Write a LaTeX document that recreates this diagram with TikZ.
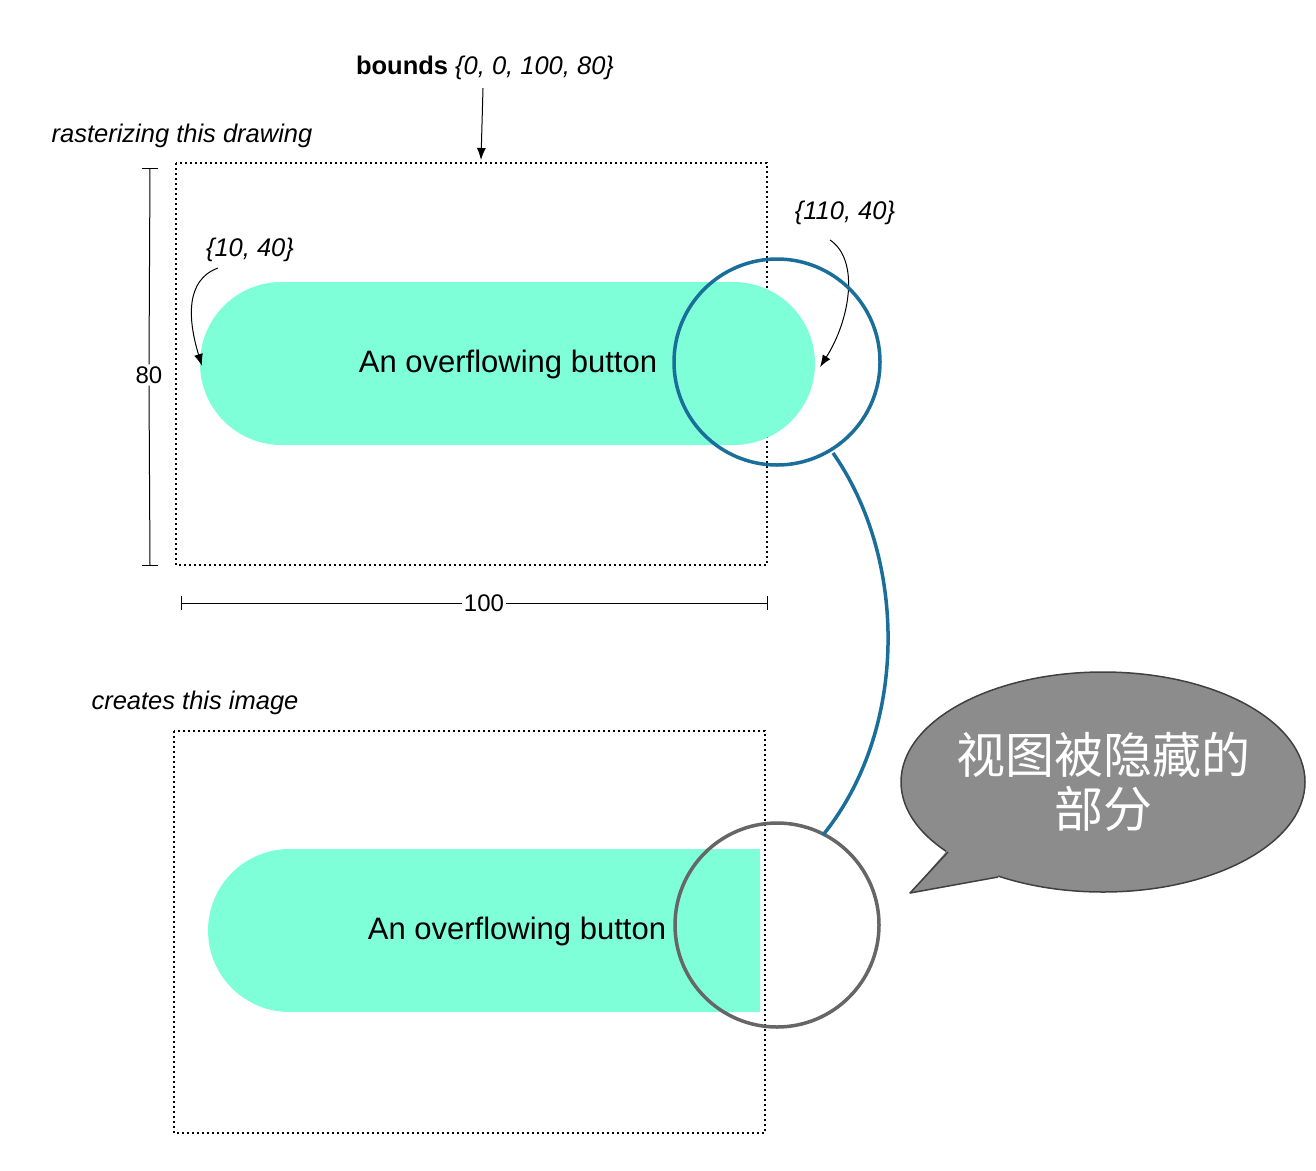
\documentclass[tikz,border=0pt]{standalone}
\usepackage{fontspec}
\setmainfont{Liberation Sans}
\newfontfamily\cjk{Noto Sans CJK SC}
\usetikzlibrary{arrows.meta}
\definecolor{btn}{HTML}{7EFFD8}
\definecolor{blu}{HTML}{1A6E9A}
\definecolor{gry}{HTML}{666666}
\definecolor{bub}{HTML}{8C8C8C}
\begin{document}
\begin{tikzpicture}[x=1pt,y=-1pt,
  lab/.style={font=\fontsize{25.5}{30}\selectfont\itshape},
  btxt/.style={font=\fontsize{31}{36}\selectfont},
  dotbox/.style={draw, dash pattern=on 2pt off 3pt, line width=1.5pt},
  arr/.style={-{Latex[length=12,width=9]}, line width=1pt},
  dim/.style={line width=1pt}]
\useasboundingbox (0,0) rectangle (1316,1170);
% top
\node[lab] (bounds) at (485,68) {\textbf{\upshape bounds} \{0, 0, 100, 80\}};
\coordinate (btop) at (481,160);
\draw[arr] (483,88) -- (btop);
\node[lab] (rast) at (182,136) {rasterizing this drawing};
\draw[dotbox] (176,163) rectangle (767,565);
\fill[btn, rounded corners=81.5] (200,282) rectangle (815,445);
\node[btxt] (b1) at (508,364) {An overflowing button};
% dims
\node[font=\fontsize{24}{28}\selectfont, fill=white, inner sep=2pt] (h80) at (149,375) {80};
\draw[dim] (150,168) -- (h80.north) (h80.south) -- (150,565);
\draw[dim] (142,168) -- (158,168) (142,565) -- (158,565);
\node[font=\fontsize{24}{28}\selectfont, fill=white, inner sep=2pt] (w100) at (484,603) {100};
\draw[dim] (181,603) -- (w100.west) (w100.east) -- (767,603);
\draw[dim] (181,596) -- (181,610) (767,596) -- (767,610);
% point labels
\node[lab] (p1) at (250,250) {\{10, 40\}};
\coordinate (p1e) at (202,366);
\draw[arr] (218,268) .. controls (185,280) and (188,320) .. (p1e);
\node[lab] (p2) at (845,213) {\{110, 40\}};
\coordinate (p2e) at (820,367);
\draw[arr] (830,240) .. controls (860,260) and (850,320) .. (p2e);
\draw[blu, line width=3.5pt] (777,362) circle[radius=103];
% bottom
\node[lab] (cr) at (195,703) {creates this image};
\draw[dotbox] (174,731) rectangle (765,1133);
\begin{scope}
\clip (0,0) rectangle (760,1170);
\fill[btn, rounded corners=81.5] (208,849) rectangle (840,1012);
\end{scope}
\node[btxt] (b2) at (517,931) {An overflowing button};
\draw[gry, line width=3.5pt] (777,925) circle[radius=102];
\draw[blu, line width=3.5pt] (833,453) .. controls (908,560) and (908,730) .. (823,835);
% bubble
\draw[fill=bub, draw=black!75, line width=1.5pt] (1103,782) ellipse[x radius=202, y radius=110];
\fill[bub] (960,830) -- (945,853) -- (910,893) -- (998,877) -- (1010,840) -- cycle;
\draw[black!75, line width=1.5pt, line join=round] (948,852) -- (910,893) -- (998,877);
\node[font=\cjk\fontsize{49}{54}\selectfont, text=white, align=center] (bt) at (1103,782) {视图被隐藏的\\部分};
\end{tikzpicture}
\end{document}
